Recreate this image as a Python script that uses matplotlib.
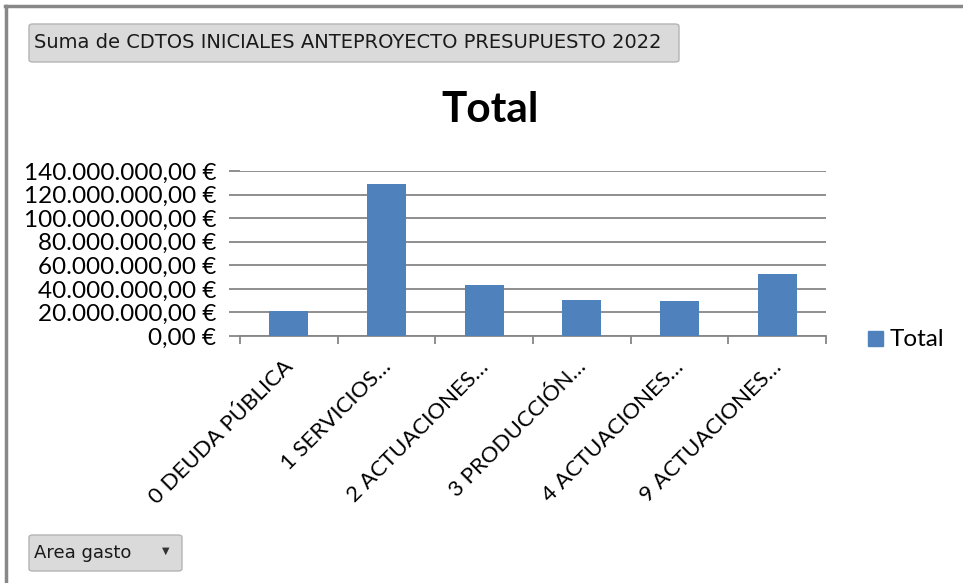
import matplotlib
matplotlib.use("Agg")
import matplotlib.pyplot as plt
import matplotlib.transforms as mtransforms
from matplotlib.patches import FancyBboxPatch, Rectangle
from matplotlib.lines import Line2D
from matplotlib.ticker import FuncFormatter, MultipleLocator

plt.rcParams['font.family'] = ['Lato', 'DejaVu Sans']

categories = ["0 DEUDA PÚBLICA", "1 SERVICIOS…", "2 ACTUACIONES…",
              "3 PRODUCCIÓN…", "4 ACTUACIONES…", "9 ACTUACIONES…"]
totals = [21.2e6, 129.0e6, 43.3e6, 30.5e6, 29.7e6, 52.6e6]
series_name = "Total"
filter_label = "Suma de CDTOS INICIALES ANTEPROYECTO PRESUPUESTO 2022"
axis_field = "Area gasto"

W, H = 963, 583
fig = plt.figure(figsize=(W / 100, H / 100), dpi=100)


def px(x0, y0, x1, y1):
    # pixel box (top-left origin) -> figure fraction rect
    return [x0 / W, 1 - y1 / H, (x1 - x0) / W, (y1 - y0) / H]


def eur(v, pos):
    s = f"{v:,.2f}".replace(",", "X").replace(".", ",").replace("X", ".")
    return s + " €"


ax = fig.add_axes(px(240, 171, 826, 336))
xs = list(range(len(categories)))
ax.bar(xs, totals, width=0.4, color="#4F81BD", zorder=3)
ax.set_xlim(-0.5, len(categories) - 0.5)
ax.set_ylim(0, 140e6)
ax.yaxis.set_major_locator(MultipleLocator(20e6))
ax.yaxis.set_major_formatter(FuncFormatter(eur))
ax.grid(axis="y", color="#868686", lw=1.3, zorder=0)
for s in ["top", "right", "left"]:
    ax.spines[s].set_visible(False)
ax.spines["bottom"].set_color("#868686")
ax.spines["bottom"].set_linewidth(1.3)
ax.tick_params(axis="y", length=8, width=1.3, color="#868686", labelsize=17.5, pad=9)
ax.set_xticks([x + 0.5 for x in xs[:-1]] + [-0.5, len(categories) - 0.5], minor=True)
ax.set_xticks(xs)
ax.set_xticklabels(categories, rotation=45, ha="right", rotation_mode="anchor", fontsize=16)
ax.tick_params(axis="x", which="major", length=0, pad=15)
ax.tick_params(axis="x", which="minor", length=6, width=1.3, color="#868686")
shift = mtransforms.ScaledTranslation(-6 / 100, 0, fig.dpi_scale_trans)
for lbl in ax.get_xticklabels():
    lbl.set_transform(lbl.get_transform() + shift)

fig.text(490 / W, 1 - 110 / H, series_name, fontsize=30.5, fontweight="bold",
         ha="center", va="center")

# legend
fig.patches.append(Rectangle((868 / W, 1 - 346 / H), 15 / W, 15 / H,
                             transform=fig.transFigure, color="#4F81BD"))
fig.text(890 / W, 1 - 339 / H, series_name, fontsize=17.5, va="center")

# outer frame
fig.add_artist(Line2D([5 / W, 1], [1 - 6 / H, 1 - 6 / H], color="#888888", lw=2.5))
fig.add_artist(Line2D([6 / W, 6 / W], [0, 1 - 6 / H], color="#888888", lw=2.5))

# field buttons
for (x0, y0, x1, y1), txt, fs in [((29, 24, 679, 62), filter_label, 14),
                                  ((29, 535, 182, 571), axis_field, 13)]:
    fig.patches.append(FancyBboxPatch((x0 / W, 1 - y1 / H), (x1 - x0) / W, (y1 - y0) / H,
                                      boxstyle="round,pad=0,rounding_size=0.004",
                                      transform=fig.transFigure, facecolor="#dadada",
                                      edgecolor="#b4b4b4", lw=1))
    fig.text((x0 + 5) / W, 1 - (y0 + y1) / 2 / H, txt, fontsize=fs, va="center",
             family=["DejaVu Sans"], color="#1a1a1a")
fig.text(166 / W, 1 - 551 / H, "▼", fontsize=7, ha="center", va="center",
         family=["DejaVu Sans"], color="#333333")

fig.savefig("out.png", dpi=100)
